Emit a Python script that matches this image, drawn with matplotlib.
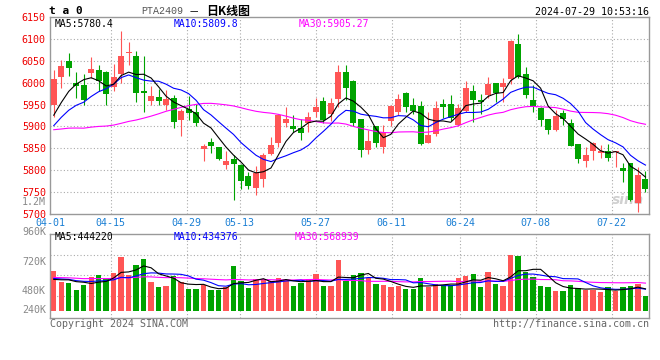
import matplotlib
matplotlib.use('Agg')
import matplotlib.pyplot as plt
import numpy as np
import pandas as pd

plt.rcParams['font.family'] = ['DejaVu Sans Mono', 'Noto Sans CJK SC']

# trading days of PTA2409, 2024-04-01 .. 2024-07-29
holidays = ['2024-04-04', '2024-04-05', '2024-05-01', '2024-05-02', '2024-05-03', '2024-06-10']
label_dates = ['04-01', '04-15', '04-29', '05-13', '05-27', '06-11', '06-24', '07-08', '07-22']

open_ = [5949, 6013, 6050, 5999, 5995, 6022, 6029, 6024, 5991, 6021,
         6069, 6061, 5981, 5959, 5968, 5948, 5964, 5915, 5939, 5934,
         5849, 5865, 5852, 5813, 5826, 5812, 5787, 5760, 5781, 5838,
         5863, 5908, 5901, 5896, 5909, 5932, 5958, 5929, 5962, 6024,
         6004, 5917, 5846, 5900, 5854, 5913, 5934, 5977, 5949, 5947,
         5863, 5882, 5951, 5951, 5903, 5935, 5981, 5961, 5971, 5999,
         5991, 6009, 6089, 6019, 5961, 5943, 5916, 5891, 5930, 5909,
         5860, 5820, 5843, 5839, 5843, 5841, 5804, 5816, 5726, 5780]
high = [6029, 6052, 6067, 6025, 6021, 6059, 6041, 6026, 6042, 6118,
        6094, 6073, 6060, 5993, 5985, 5983, 5972, 5941, 5970, 5951,
        5861, 5873, 5854, 5844, 5835, 5814, 5797, 5810, 5840, 5877,
        5928, 5945, 5926, 5916, 5932, 5964, 5968, 5964, 6041, 6040,
        6006, 5918, 5892, 5901, 5903, 5949, 5974, 5978, 5964, 5958,
        5932, 5958, 5963, 5971, 5951, 6003, 5995, 5974, 6012, 6000,
        6010, 6098, 6111, 6037, 5995, 5945, 5917, 5938, 5938, 5916,
        5861, 5854, 5865, 5858, 5860, 5843, 5817, 5817, 5808, 5798]
low = [5922, 5987, 6016, 5966, 5949, 6010, 5981, 5948, 5981, 5999,
       6041, 5955, 5932, 5949, 5949, 5938, 5896, 5879, 5915, 5900,
       5820, 5839, 5823, 5803, 5732, 5757, 5757, 5743, 5761, 5835,
       5854, 5899, 5887, 5869, 5887, 5922, 5907, 5913, 5945, 5961,
       5900, 5831, 5837, 5854, 5840, 5901, 5926, 5932, 5928, 5858,
       5862, 5879, 5920, 5913, 5900, 5934, 5910, 5929, 5964, 5955,
       5957, 5997, 6010, 5964, 5932, 5902, 5882, 5889, 5903, 5855,
       5817, 5808, 5823, 5827, 5820, 5808, 5774, 5730, 5705, 5751]
close = [6009, 6039, 6033, 5993, 5961, 6031, 6004, 5974, 6013, 6060,
         6070, 5977, 5977, 5970, 5959, 5963, 5911, 5935, 5930, 5907,
         5855, 5856, 5825, 5822, 5815, 5776, 5764, 5793, 5835, 5858,
         5926, 5917, 5895, 5884, 5921, 5945, 5915, 5953, 6024, 5989,
         5909, 5846, 5867, 5863, 5887, 5947, 5963, 5945, 5935, 5860,
         5881, 5942, 5945, 5920, 5942, 5989, 5961, 5955, 5997, 5976,
         5999, 6096, 6012, 5971, 5944, 5915, 5892, 5924, 5916, 5856,
         5826, 5835, 5863, 5843, 5829, 5843, 5799, 5732, 5790, 5758]
# volume in thousands
volume = [612, 512, 503, 434, 481, 553, 575, 537, 597, 744,
          575, 669, 725, 509, 462, 472, 566, 509, 443, 443,
          481, 437, 434, 465, 659, 519, 456, 537, 537, 519,
          547, 528, 472, 503, 537, 587, 472, 472, 716, 519,
          575, 597, 547, 490, 481, 462, 472, 443, 443, 547,
          462, 490, 478, 478, 547, 566, 584, 462, 603, 490,
          472, 766, 753, 603, 556, 472, 462, 425, 425, 481,
          453, 434, 434, 415, 462, 425, 462, 472, 490, 381]

# closes / volumes of the 29 sessions before 04-01 (needed for the moving averages)
prev_close = [5990, 5975, 5985, 5970, 5960, 5955, 5950, 5945, 5940, 5940,
              5880, 5850, 5830, 5800, 5790, 5780, 5800, 5810, 5820, 5790,
              5850, 5870, 5880, 5890, 5900, 5895, 5905, 5910, 5910]
prev_volume = [580, 560, 545, 600, 530, 570, 555, 540, 565, 575,
               550, 560, 545, 590, 555, 540, 560, 550, 565, 545,
               560, 540, 555, 545, 565, 530, 505, 520, 508]

days = pd.bdate_range('2024-04-01', '2024-07-29')
days = days[~days.isin(pd.to_datetime(holidays))]
day_str = list(days.strftime('%m-%d'))

o = np.array(open_, float)
h = np.array(high, float)
l = np.array(low, float)
c = np.array(close, float)
v = np.array(volume, float) * 1000
x = np.arange(len(c))
n0 = len(prev_close)

c_all = pd.Series(prev_close + close, dtype=float)
v_all = pd.Series(prev_volume + volume, dtype=float) * 1000
ma = {p: c_all.rolling(p).mean().values[n0:] for p in (5, 10, 30)}
vma = {p: v_all.rolling(p).mean().values[n0:] for p in (5, 10, 30)}

RED = '#ff5555'
GREEN = '#00a300'
cols = np.where(c >= o, RED, GREEN)
ma_cols = {5: 'black', 10: '#0000ff', 30: '#ff00ff'}

# sina spaces its date grid a little wider than the candles
tick_idx = np.array([day_str.index(d) for d in label_dates])
tick_pos = tick_idx * 1.0135 - 0.5

W, H = 660, 360
fig = plt.figure(figsize=(6.6, 3.6), dpi=100)
ax1 = fig.add_axes([50 / W, 1 - 214 / H, 599 / W, (214 - 17.1) / H])
ax2 = fig.add_axes([50 / W, 1 - 318.3 / H, 599 / W, 84 / H])

grid_kw = dict(color='#aaaaaa', linestyle=(0, (1, 2)), linewidth=0.8)
for ax in (ax1, ax2):
    for s in ax.spines.values():
        s.set_color('#999999')
        s.set_linewidth(1.0)
    ax.set_xlim(-0.4, 79.47)
    ax.set_xticks(tick_pos)
    ax.tick_params(length=0)
    for p in tick_pos[1:]:
        ax.axvline(p, zorder=0, **grid_kw)

# price panel
ax1.set_ylim(5700, 6150)
ax1.set_yticks(np.arange(5700, 6151, 50))
ax1.set_yticklabels([str(t) for t in range(5700, 6151, 50)], color='#ee0000', fontsize=7.2)
for yv in range(5750, 6101, 50):
    ax1.axhline(yv, zorder=0, **grid_kw)
ax1.set_xticklabels(label_dates, color='#1a7fd4', fontsize=7.2)
ax1.tick_params(axis='x', pad=3)
ax1.tick_params(axis='y', pad=3)
ax1.text(0.992, 0.07, 'sina', transform=ax1.transAxes, ha='right', va='center',
         fontsize=10, fontweight='bold', style='italic', color='#d0d0d0',
         family='DejaVu Sans', zorder=0)

ax1.vlines(x, l, h, colors=cols, linewidth=0.8, zorder=2)
ax1.bar(x, np.maximum(np.abs(c - o), 1.6), bottom=np.minimum(o, c), width=0.8,
        color=cols, zorder=3)
for p in (30, 10, 5):
    ax1.plot(x, ma[p], color=ma_cols[p], linewidth=0.8, zorder=4)

# volume panel
ax2.set_ylim(168600, 960000)
ax2.set_yticks([])
ax2.set_xticklabels([])
for f in (0.754, 0.512, 0.269):
    ax2.plot([0, 1], [f, f], transform=ax2.transAxes, zorder=0, **grid_kw)
ax2.bar(x, v - 240000, bottom=240000, width=0.72, color=cols, zorder=2)
for p in (30, 10, 5):
    ax2.plot(x, vma[p], color=ma_cols[p], linewidth=0.8, zorder=4)


def txt(px, py, s, **kw):
    kw.setdefault('fontsize', 7.2)
    kw.setdefault('va', 'center')
    fig.text(px / W, 1 - py / H, s, **kw)


for py, s in [(231.7, '960K'), (261.7, '720K'), (290.7, '480K'), (310, '240K'), (202, '1.2M')]:
    txt(46, py, s, ha='right', color='#888888', fontsize=7.2)

txt(49, 11, 't a 0', fontweight='bold', fontsize=8)
txt(141, 11, 'PTA2409', color='#555555', family='Liberation Mono', fontsize=7.2)
txt(189, 11, '－', family='Noto Sans CJK SC', fontsize=7.5)
txt(206, 11, '日K线图', family='Noto Sans CJK SC', fontsize=8.6, fontweight='bold')
txt(649, 12, '2024-07-29 10:53:16', ha='right')

txt(55, 24, 'MA5:5780.4', color='black', fontsize=7)
txt(174, 24, 'MA10:5809.8', color='#0000ff', fontsize=7)
txt(299, 24, 'MA30:5905.27', color='#ff00ff', fontsize=7)
txt(55, 237, 'MA5:444220', color='black', fontsize=7)
txt(174, 237, 'MA10:434376', color='#0000ff', fontsize=7)
txt(295, 237, 'MA30:568939', color='#ff00ff', fontsize=7)

txt(50, 324, 'Copyright 2024 SINA.COM', color='#666666')
txt(649, 324, 'http://finance.sina.com.cn', color='#666666', ha='right')

fig.savefig('out.png', dpi=100, facecolor='white')
